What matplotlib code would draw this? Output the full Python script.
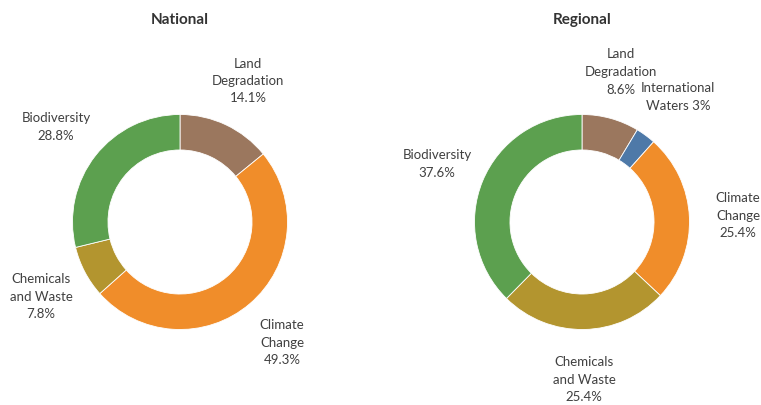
import matplotlib.pyplot as plt

# data
national_labels = ['Land\nDegradation', 'Climate\nChange', 'Chemicals\nand Waste', 'Biodiversity']
national_values = [14.1, 49.3, 7.8, 28.8]
national_colors = ['#9B775E', '#F08D2A', '#B3952F', '#5CA04F']

regional_labels = ['Land\nDegradation', 'International\nWaters', 'Climate\nChange', 'Chemicals\nand Waste', 'Biodiversity']
regional_values = [8.6, 3, 25.4, 25.4, 37.6]
regional_colors = ['#9B775E', '#4E79A8', '#F08D2A', '#B3952F', '#5CA04F']

# label positions (pixels, y from top), picked to match the original layout
national_pos = [(248, 81), (282, 343), (41, 297), (56, 127)]
regional_pos = [(621, 72), (678, 97), (738, 216), (584, 380), (437, 164)]

plt.rcParams['font.family'] = ['Lato', 'DejaVu Sans']
W, H = 761, 406
fig = plt.figure(figsize=(W / 100, H / 100), dpi=100)
ax = fig.add_axes([0, 0, 1, 1])

R = 107.5
txt = '#404040'


def donut(cx, cy, values, colors, labels, pos, title):
    ax.pie(values, colors=colors, startangle=90, counterclock=False,
           center=(cx, H - cy), radius=R,
           wedgeprops=dict(width=R * 0.33, edgecolor='white', linewidth=0.6))
    ax.text(cx, H - 20, title, ha='center', va='center', fontsize=11,
            fontweight='bold', color='#333333')
    for lab, v, (x, y) in zip(labels, values, pos):
        if lab.startswith('International'):
            s = 'International\nWaters %g%%' % v
        else:
            s = '%s\n%.1f%%' % (lab, v)
        ax.text(x, H - y, s, ha='center', va='center', fontsize=9.5,
                color=txt, linespacing=1.55)


donut(180, 223, national_values, national_colors, national_labels, national_pos, 'National')
donut(582, 223, regional_values, regional_colors, regional_labels, regional_pos, 'Regional')

ax.set_xlim(0, W)
ax.set_ylim(0, H)
ax.set_aspect('equal')
ax.axis('off')

fig.savefig('out.png', dpi=100)
